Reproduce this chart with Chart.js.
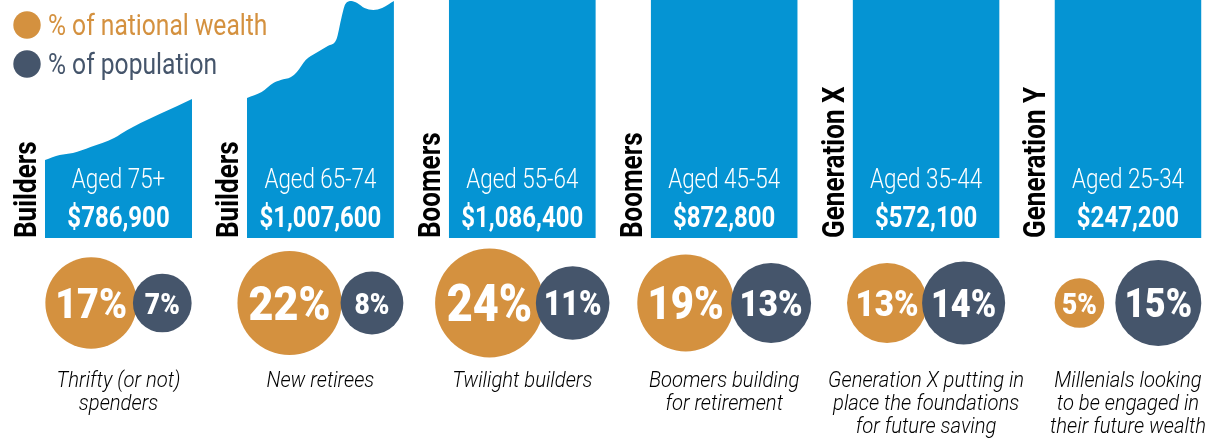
<!DOCTYPE html>
<html>
<head>
<meta charset="utf-8">
<script src="https://cdn.jsdelivr.net/npm/chart.js@4"></script>
<style>
  body { margin: 0; background: #fff; }
  #wrap { width: 1215px; height: 440px; position: relative; }
</style>
</head>
<body>
<div id="wrap"><canvas id="wealthChart"></canvas></div>
<script>
const groups = ['Builders', 'Builders', 'Boomers', 'Boomers', 'Generation X', 'Generation Y'];
const ageBands = ['Aged 75+', 'Aged 65-74', 'Aged 55-64', 'Aged 45-54', 'Aged 35-44', 'Aged 25-34'];
const avgWealth = [786900, 1007600, 1086400, 872800, 572100, 247200];
const wealthShare = [17, 22, 24, 19, 13, 5];       // % of national wealth
const populationShare = [7, 8, 11, 13, 14, 15];    // % of population
const captions = [
    ['Thrifty (or not)', 'spenders'],
    ['New retirees'],
    ['Twilight builders'],
    ['Boomers building', 'for retirement'],
    ['Generation X putting in', 'place the foundations', 'for future saving'],
    ['Millenials looking', 'to be engaged in', 'their future wealth']
];

// top edge of the first two columns (fraction across column, height)
const profile75x = [0, 0.10, 0.19, 0.31, 0.47, 0.56, 0.65, 0.78, 0.90, 1];
const profile75h = [78, 83, 85, 91, 100, 108, 115, 124, 132, 139];
const profile65x = [0, 0.10, 0.18, 0.23, 0.30, 0.34, 0.40, 0.47, 0.55, 0.61, 0.64, 0.67, 0.71, 0.75, 0.80, 0.86, 0.92, 1];
const profile65h = [140, 146, 155, 158, 161, 166, 178, 185, 192, 199, 218, 234, 237, 235, 230, 228, 230, 237];

// layout
const xMin = -0.223, xMax = 5.795;
const yMin = -202, yMax = 238;
const colWidth = 0.728;
const pairGap = [-4, -1, -8, -3, -5, 11];   // px between the two circles
const bubbleY = -65;
const unitPx = 1215 / (xMax - xMin);

const BLUE = '#0594d3';
const ORANGE = '#d4913f';
const SLATE = '#45556b';

function radius(p) { return 11.1 * Math.sqrt(p); }

// blue columns
const columnSets = groups.map((g, i) => {
    let pts;
    if (i === 0) pts = profile75x.map((f, k) => ({ x: i + f * colWidth, y: profile75h[k] }));
    else if (i === 1) pts = profile65x.map((f, k) => ({ x: i + f * colWidth, y: profile65h[k] }));
    else pts = [{ x: i, y: yMax + 20 }, { x: i + colWidth, y: yMax + 20 }];
    return {
        type: 'line',
        data: pts,
        backgroundColor: BLUE,
        borderWidth: 0,
        pointRadius: 0,
        fill: 'origin',
        cubicInterpolationMode: 'monotone',
        order: 3
    };
});

// circle pairs, centred under each column
const wealthPts = [], popPts = [];
wealthShare.forEach((w, i) => {
    const r1 = radius(w), r2 = radius(populationShare[i]);
    const total = 2 * r1 + 2 * r2 + pairGap[i];
    const c = i + colWidth / 2;
    const left = c - total / 2 / unitPx;
    wealthPts.push({ x: left + r1 / unitPx, y: bubbleY, r: r1, v: w });
    popPts.push({ x: left + (total - r2) / unitPx, y: bubbleY, r: r2, v: populationShare[i] });
});

function drawText(ctx, text, x, y, font, color, align, sx) {
    ctx.save();
    ctx.translate(x, y);
    ctx.scale(sx, 1);
    ctx.font = font;
    ctx.fillStyle = color;
    ctx.textAlign = align;
    ctx.textBaseline = 'alphabetic';
    ctx.fillText(text, 0, 0);
    ctx.restore();
}

const labelPlugin = {
    id: 'labels',
    afterDatasetsDraw(chart) {
        const ctx = chart.ctx;
        const xs = chart.scales.x, ys = chart.scales.y;
        const base = ys.getPixelForValue(0);

        groups.forEach((g, i) => {
            const left = xs.getPixelForValue(i);
            const mid = xs.getPixelForValue(i + colWidth / 2);

            // rotated group name
            ctx.save();
            ctx.translate(left - 9, base);
            ctx.rotate(-Math.PI / 2);
            ctx.scale(0.84, 1);
            ctx.font = 'bold 31px Roboto';
            ctx.fillStyle = '#000';
            ctx.textAlign = 'left';
            ctx.fillText(g, 0, 0);
            ctx.restore();

            drawText(ctx, ageBands[i], mid, base - 50, '300 28px Roboto', '#fff', 'center', 0.8);
            drawText(ctx, '$' + avgWealth[i].toLocaleString('en-US'), mid, base - 11, 'bold 30px Roboto', '#fff', 'center', 0.8);

            captions[i].forEach((line, k) => {
                drawText(ctx, line, mid, base + 149 + k * 23, 'italic 300 22px Roboto', '#000', 'center', 0.92);
            });
        });

        // percentages inside circles
        [0, 1].forEach(di => {
            chart.getDatasetMeta(di).data.forEach((el, k) => {
                const raw = chart.data.datasets[di].data[k];
                const size = Math.max(0.94 * raw.r, 30);
                drawText(ctx, raw.v + '%', el.x, el.y + size * 0.355, '900 ' + size + 'px Roboto', '#fff', 'center', 0.88);
            });
        });

        // legend
        const items = [['% of national wealth', ORANGE, 25], ['% of population', SLATE, 64]];
        items.forEach(([t, col, cy]) => {
            ctx.beginPath();
            ctx.arc(27, cy, 13.7, 0, Math.PI * 2);
            ctx.fillStyle = col;
            ctx.fill();
            drawText(ctx, t, 48, cy + 10, '30px Roboto', col, 'left', 0.82);
        });
    }
};

new Chart(document.getElementById('wealthChart'), {
    type: 'line',
    data: {
        datasets: [
            {
                type: 'bubble',
                label: '% of population',
                data: popPts,
                backgroundColor: SLATE,
                borderWidth: 0,
                order: 1
            },
            {
                type: 'bubble',
                label: '% of national wealth',
                data: wealthPts,
                backgroundColor: ORANGE,
                borderWidth: 0,
                order: 2
            },
            ...columnSets
        ]
    },
    options: {
        responsive: true,
        maintainAspectRatio: false,
        animation: false,
        layout: { padding: 0, autoPadding: false },
        plugins: { legend: { display: false }, tooltip: { enabled: false } },
        scales: {
            x: { type: 'linear', min: xMin, max: xMax, display: false },
            y: { type: 'linear', min: yMin, max: yMax, display: false }
        }
    },
    plugins: [labelPlugin]
});
</script>
</body>
</html>
